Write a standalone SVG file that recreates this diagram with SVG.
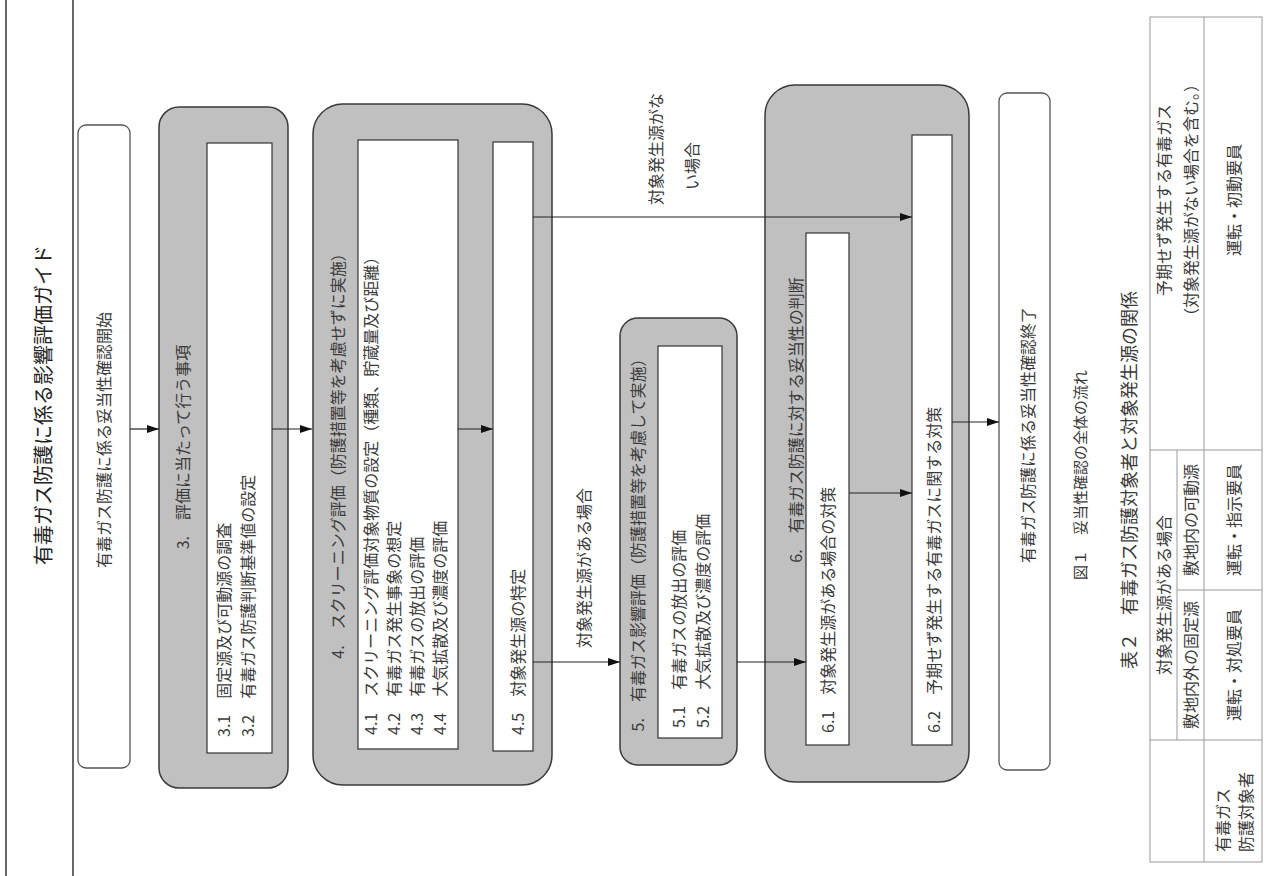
<svg xmlns="http://www.w3.org/2000/svg" width="1277" height="876" viewBox="0 0 1277 876">
<style>
text{font-family:"Noto Sans CJK JP","Liberation Sans",sans-serif;fill:#3a3a3a;dominant-baseline:central;font-size:16px}
.m{text-anchor:middle}
.s{text-anchor:start}
.f20{font-size:20px;fill:#222}
.f15{font-size:15px}
.f18{font-size:18px}
.grp{fill:#c0c0c0;stroke:#3a3a3a;stroke-width:1.5}
.wb{fill:#fff;stroke:#333;stroke-width:1.2}
.term{fill:#fff;stroke:#555;stroke-width:1.3}
.ln{stroke:#222;stroke-width:1.2;fill:none}
.tb{stroke:#999;stroke-width:1;fill:none}
</style>
<defs>
<marker id="ah" markerWidth="12" markerHeight="8" refX="12" refY="4" orient="auto" markerUnits="userSpaceOnUse">
<path d="M0,0 L12,4 L0,8 Z" fill="#111"/>
</marker>
</defs>
<rect width="1277" height="876" fill="#fff"/>
<g id="page">
<line x1="6" y1="0" x2="6" y2="876" stroke="#000" stroke-width="1.2"/>
<line x1="73" y1="0" x2="73" y2="876" stroke="#000" stroke-width="1.2"/>
<text class="m f20" transform="translate(42,405) rotate(-90)">有毒ガス防護に係る影響評価ガイド</text>
</g>
<g id="start">
<rect class="term" x="78" y="125" width="52" height="643" rx="8"/>
<text class="m" transform="translate(103,440) rotate(-90)">有毒ガス防護に係る妥当性確認開始</text>
</g>
<g id="n3">
<rect class="grp" x="159" y="107" width="129" height="681" rx="20"/>
<text class="m" transform="translate(182,447) rotate(-90)">3.　評価に当たって行う事項</text>
<rect class="wb" x="207" y="143" width="65" height="610"/>
<text class="s" transform="translate(223,737) rotate(-90)">3.1　固定源及び可動源の調査</text>
<text class="s" transform="translate(247,737) rotate(-90)">3.2　有毒ガス防護判断基準値の設定</text>
</g>
<g id="n4">
<rect class="grp" x="313" y="104" width="239" height="681" rx="30"/>
<text class="m" transform="translate(337,452) rotate(-90)">4.　スクリーニング評価（防護措置等を考慮せずに実施）</text>
<rect class="wb" x="358" y="140" width="100" height="609"/>
<text class="s" transform="translate(370,735) rotate(-90)">4.1　スクリーニング評価対象物質の設定（種類、貯蔵量及び距離）</text>
<text class="s" transform="translate(393,735) rotate(-90)">4.2　有毒ガス発生事象の想定</text>
<text class="s" transform="translate(416,735) rotate(-90)">4.3　有毒ガスの放出の評価</text>
<text class="s" transform="translate(439,735) rotate(-90)">4.4　大気拡散及び濃度の評価</text>
<rect class="wb" x="493" y="142" width="40" height="609"/>
<text class="s" transform="translate(517,735) rotate(-90)">4.5　対象発生源の特定</text>
</g>
<g id="n5">
<rect class="grp" x="620" y="318" width="117" height="447" rx="18"/>
<text class="m" transform="translate(637,541) rotate(-90)">5.　有毒ガス影響評価（防護措置等を考慮して実施）</text>
<rect class="wb" x="658" y="346" width="64" height="392"/>
<text class="s" transform="translate(678,728) rotate(-90)">5.1　有毒ガスの放出の評価</text>
<text class="s" transform="translate(702,728) rotate(-90)">5.2　大気拡散及び濃度の評価</text>
</g>
<g id="n6">
<rect class="grp" x="765" y="85" width="204" height="697" rx="30"/>
<text class="m" transform="translate(795,420) rotate(-90)">6.　有毒ガス防護に対する妥当性の判断</text>
<rect class="wb" x="806" y="233" width="43" height="512"/>
<text class="s" transform="translate(827,733) rotate(-90)">6.1　対象発生源がある場合の対策</text>
<rect class="wb" x="912" y="135" width="40" height="610"/>
<text class="s" transform="translate(933,733) rotate(-90)">6.2　予期せず発生する有毒ガスに関する対策</text>
</g>
<g id="end">
<rect class="term" x="999" y="93" width="51" height="677" rx="8"/>
<text class="m" transform="translate(1027,435) rotate(-90)">有毒ガス防護に係る妥当性確認終了</text>
</g>
<g id="connectors">
<line class="ln" x1="130" y1="429" x2="159" y2="429" marker-end="url(#ah)"/>
<line class="ln" x1="272" y1="429" x2="312" y2="429" marker-end="url(#ah)"/>
<line class="ln" x1="458" y1="429" x2="493" y2="429" marker-end="url(#ah)"/>
<line class="ln" x1="533" y1="217" x2="912" y2="217" marker-end="url(#ah)"/>
<line class="ln" x1="533" y1="662" x2="620" y2="662" marker-end="url(#ah)"/>
<line class="ln" x1="737" y1="662" x2="806" y2="662" marker-end="url(#ah)"/>
<line class="ln" x1="849" y1="493" x2="912" y2="493" marker-end="url(#ah)"/>
<line class="ln" x1="952" y1="422" x2="999" y2="422" marker-end="url(#ah)"/>
<text class="s" transform="translate(655,205) rotate(-90)">対象発生源がな</text>
<text class="s" transform="translate(691,190) rotate(-90)">い場合</text>
<text class="s" transform="translate(583,648) rotate(-90)">対象発生源がある場合</text>
</g>
<g id="captions">
<text class="m f15" transform="translate(1079,475) rotate(-90)">図１　妥当性確認の全体の流れ</text>
<text class="m f18" transform="translate(1128,480) rotate(-90)">表２　有毒ガス防護対象者と対象発生源の関係</text>
</g>
<g id="table">
<rect class="tb" x="1150" y="17" width="112" height="845"/>
<line class="tb" x1="1177" y1="450" x2="1177" y2="740"/>
<line class="tb" x1="1204" y1="17" x2="1204" y2="862"/>
<line class="tb" x1="1150" y1="740" x2="1262" y2="740"/>
<line class="tb" x1="1177" y1="590" x2="1262" y2="590"/>
<line class="tb" x1="1150" y1="450" x2="1262" y2="450"/>
<text class="m" transform="translate(1163,595) rotate(-90)">対象発生源がある場合</text>
<text class="m" transform="translate(1163,200) rotate(-90)">予期せず発生する有毒ガス</text>
<text class="m" transform="translate(1190,200) rotate(-90)">（対象発生源がない場合を含む。）</text>
<text class="m" transform="translate(1190,665) rotate(-90)">敷地内外の固定源</text>
<text class="m" transform="translate(1190,520) rotate(-90)">敷地内の可動源</text>
<text class="s" transform="translate(1222,852) rotate(-90)">有毒ガス</text>
<text class="s" transform="translate(1245,852) rotate(-90)">防護対象者</text>
<text class="m" transform="translate(1233,665) rotate(-90)">運転・対処要員</text>
<text class="m" transform="translate(1233,520) rotate(-90)">運転・指示要員</text>
<text class="m" transform="translate(1233,200) rotate(-90)">運転・初動要員</text>
</g>
</svg>
